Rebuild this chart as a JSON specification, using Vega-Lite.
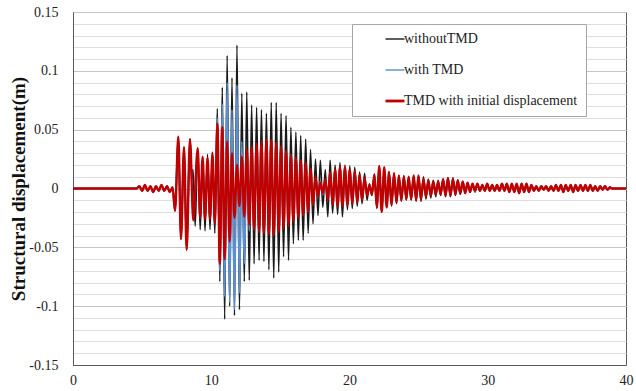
{
"$schema": "https://vega.github.io/schema/vega-lite/v6.json",
"width": 553, "height": 353,
"autosize": {"type": "none"},
"padding": {"left": 73, "top": 12, "right": 10, "bottom": 26},
"background": "white",
"config": {
 "view": {"stroke": "#595959", "strokeWidth": 1},
 "font": "Liberation Serif",
 "legend": {"orient": "none", "legendX": 279, "legendY": 12, "fillColor": "white", "strokeColor": "#a6a6a6", "padding": 8, "symbolOffset": 28, "symbolType": "stroke", "symbolSize": 361, "rowPadding": 17, "labelFontSize": 14, "labelFont": "Liberation Serif", "labelColor": "#222", "labelOffset": 2, "labelLimit": 400}
},
"datasets": {
"without": [
{"t":0,"v":0},{"t":4.6,"v":0},{"t":4.8,"v":0.002},{"t":5.0,"v":-0.002},{"t":5.2,"v":0.003},{"t":5.4,"v":-0.002},{"t":5.6,"v":0.002},{"t":5.8,"v":-0.003},{"t":6.0,"v":0.002},{"t":6.2,"v":-0.002},{"t":6.4,"v":0.003},{"t":6.6,"v":-0.002},{"t":6.8,"v":0.002},{"t":7.0,"v":-0.003},{"t":7.2,"v":0.001},{"t":7.38,"v":-0.019},{"t":7.62,"v":0.044},{"t":7.81,"v":-0.043},{"t":8.03,"v":0.035},{"t":8.22,"v":-0.052},{"t":8.46,"v":0.042},
{"t":8.6,"v":0.008},{"t":8.68,"v":0.016},{"t":8.84,"v":-0.032},{"t":9.02,"v":0.035},{"t":9.2,"v":-0.035},{"t":9.375,"v":0.027},{"t":9.55,"v":-0.036},{"t":9.73,"v":0.029},{"t":9.91,"v":-0.035},{"t":10.085,"v":0.031},{"t":10.26,"v":-0.038},
{"t":10.44,"v":0.068},{"t":10.62,"v":-0.079},{"t":10.8,"v":0.086},{"t":10.97,"v":-0.111},{"t":11.15,"v":0.113},{"t":11.33,"v":-0.1},{"t":11.5,"v":0.094},{"t":11.68,"v":-0.108},{"t":11.86,"v":0.122},{"t":12.04,"v":-0.103},{"t":12.21,"v":0.081},{"t":12.39,"v":-0.079},{"t":12.57,"v":0.082},{"t":12.75,"v":-0.078},{"t":12.92,"v":0.071},{"t":13.1,"v":-0.064},{"t":13.28,"v":0.069},{"t":13.46,"v":-0.061},{"t":13.63,"v":0.067},{"t":13.81,"v":-0.062},{"t":13.99,"v":0.064},{"t":14.17,"v":-0.069},{"t":14.34,"v":0.073},{"t":14.52,"v":-0.076},{"t":14.7,"v":0.073},{"t":14.88,"v":-0.071},{"t":15.05,"v":0.064},{"t":15.23,"v":-0.058},{"t":15.41,"v":0.062},{"t":15.59,"v":-0.061},{"t":15.76,"v":0.052},{"t":15.94,"v":-0.047},{"t":16.12,"v":0.048},{"t":16.3,"v":-0.044},{"t":16.47,"v":0.045},{"t":16.65,"v":-0.044},{"t":16.83,"v":0.042},{"t":17.01,"v":-0.038},{"t":17.18,"v":0.033},{"t":17.36,"v":-0.03},{"t":17.54,"v":0.025},{"t":17.72,"v":-0.023},{"t":17.89,"v":0.024},{"t":18.07,"v":-0.016},{"t":18.25,"v":0.016},{"t":18.43,"v":-0.024},{"t":18.6,"v":0.024},{"t":18.78,"v":-0.021},{"t":18.96,"v":0.02},{"t":19.14,"v":-0.022},{"t":19.31,"v":0.022},{"t":19.49,"v":-0.024},{"t":19.67,"v":0.02},{"t":19.85,"v":-0.018},{"t":20.02,"v":0.019},{"t":20.2,"v":-0.017},{"t":20.38,"v":0.018},{"t":20.56,"v":-0.015},{"t":20.73,"v":0.014},{"t":20.91,"v":-0.013},{"t":21.09,"v":0.013},{"t":21.27,"v":-0.01},{"t":21.44,"v":0.004},{"t":21.62,"v":-0.006},{"t":21.8,"v":0.012},{"t":21.98,"v":-0.017},{"t":22.15,"v":0.019},{"t":22.33,"v":-0.02},{"t":22.51,"v":0.017},{"t":22.69,"v":-0.016},{"t":22.86,"v":0.014},{"t":23.04,"v":-0.015},{"t":23.22,"v":0.013},{"t":23.4,"v":-0.013},{"t":23.57,"v":0.011},{"t":23.75,"v":-0.011},{"t":23.93,"v":0.011},{"t":24.11,"v":-0.01},{"t":24.28,"v":0.01},{"t":24.46,"v":-0.01},{"t":24.64,"v":0.011},{"t":24.82,"v":-0.011},{"t":24.99,"v":0.011},{"t":25.17,"v":-0.011},{"t":25.35,"v":0.01},{"t":25.53,"v":-0.009},{"t":25.7,"v":0.008},{"t":25.88,"v":-0.008},{"t":26.06,"v":0.007},{"t":26.24,"v":-0.007},{"t":26.41,"v":0.007},{"t":26.59,"v":-0.006},{"t":26.77,"v":0.008},{"t":26.95,"v":-0.007},{"t":27.12,"v":0.009},{"t":27.3,"v":-0.007},{"t":27.48,"v":0.009},{"t":27.66,"v":-0.006},{"t":27.83,"v":0.007},{"t":28.01,"v":-0.005},{"t":28.19,"v":0.006},{"t":28.37,"v":-0.004},{"t":28.54,"v":0.005},{"t":28.72,"v":-0.003},{"t":28.9,"v":0.004},
{"t":29.08,"v":-0.003},{"t":29.25,"v":0.004},{"t":29.43,"v":-0.002},{"t":29.61,"v":0.003},{"t":29.79,"v":-0.002},{"t":29.96,"v":0.004},{"t":30.14,"v":-0.002},{"t":30.32,"v":0.003},{"t":30.5,"v":-0.002},{"t":30.67,"v":0.003},{"t":30.85,"v":-0.002},{"t":31.03,"v":0.004},{"t":31.21,"v":-0.002},{"t":31.38,"v":0.004},{"t":31.56,"v":-0.003},{"t":31.74,"v":0.004},{"t":31.92,"v":-0.003},{"t":32.09,"v":0.004},{"t":32.27,"v":-0.004},{"t":32.45,"v":0.004},{"t":32.63,"v":-0.003},{"t":32.8,"v":0.004},{"t":32.98,"v":-0.003},{"t":33.16,"v":0.003},{"t":33.34,"v":-0.002},{"t":33.51,"v":0.002},{"t":33.69,"v":-0.002},{"t":33.87,"v":0.002},{"t":34.05,"v":-0.001},{"t":34.22,"v":0.002},{"t":34.4,"v":-0.002},{"t":34.58,"v":0.002},{"t":34.76,"v":-0.002},{"t":34.93,"v":0.003},{"t":35.11,"v":-0.002},{"t":35.29,"v":0.003},{"t":35.47,"v":-0.003},{"t":35.64,"v":0.003},{"t":35.82,"v":-0.002},{"t":36.0,"v":0.003},{"t":36.18,"v":-0.003},{"t":36.35,"v":0.003},{"t":36.53,"v":-0.002},{"t":36.71,"v":0.003},{"t":36.89,"v":-0.002},{"t":37.06,"v":0.003},{"t":37.24,"v":-0.002},{"t":37.42,"v":0.003},{"t":37.6,"v":-0.002},{"t":37.77,"v":0.002},{"t":37.95,"v":-0.002},{"t":38.13,"v":0.002},{"t":38.31,"v":-0.001},{"t":38.48,"v":0.002},{"t":38.66,"v":-0.001},{"t":38.84,"v":0.001},{"t":39.0,"v":0},{"t":40,"v":0}
],
"with": [
{"t":0,"v":0},{"t":4.6,"v":0},{"t":4.8,"v":0.002},{"t":5.0,"v":-0.002},{"t":5.2,"v":0.003},{"t":5.4,"v":-0.002},{"t":5.6,"v":0.002},{"t":5.8,"v":-0.003},{"t":6.0,"v":0.002},{"t":6.2,"v":-0.002},{"t":6.4,"v":0.003},{"t":6.6,"v":-0.002},{"t":6.8,"v":0.002},{"t":7.0,"v":-0.003},{"t":7.2,"v":0.001},{"t":7.38,"v":-0.019},{"t":7.62,"v":0.044},{"t":7.81,"v":-0.043},{"t":8.03,"v":0.035},{"t":8.22,"v":-0.052},{"t":8.46,"v":0.042},
{"t":8.7,"v":-0.025},{"t":9.02,"v":0.03},{"t":9.2,"v":-0.024},{"t":9.375,"v":0.025},{"t":9.55,"v":-0.025},{"t":9.73,"v":0.024},{"t":9.91,"v":-0.025},{"t":10.085,"v":0.028},{"t":10.26,"v":-0.029},
{"t":10.44,"v":0.06},{"t":10.62,"v":-0.07},{"t":10.8,"v":0.072},{"t":10.97,"v":-0.092},{"t":11.15,"v":0.09},{"t":11.33,"v":-0.097},{"t":11.5,"v":0.067},{"t":11.68,"v":-0.103},{"t":11.86,"v":0.088},{"t":12.04,"v":-0.089},{"t":12.21,"v":0.04},{"t":12.39,"v":-0.064},{"t":12.57,"v":0.03},{"t":12.75,"v":-0.036},{"t":12.92,"v":0.03},{"t":13.1,"v":-0.03},{"t":13.28,"v":0.032},{"t":13.46,"v":-0.031},{"t":13.63,"v":0.033},{"t":13.81,"v":-0.032},{"t":13.99,"v":0.034},{"t":14.17,"v":-0.033},{"t":14.34,"v":0.034},{"t":14.52,"v":-0.033},{"t":14.7,"v":0.032},{"t":14.88,"v":-0.031},{"t":15.05,"v":0.03},{"t":15.23,"v":-0.029},{"t":15.41,"v":0.027},{"t":15.59,"v":-0.027},{"t":15.76,"v":0.025},{"t":15.94,"v":-0.024},{"t":16.12,"v":0.022},{"t":16.3,"v":-0.021},{"t":16.47,"v":0.02},{"t":16.65,"v":-0.019},{"t":16.83,"v":0.018},{"t":17.01,"v":-0.016},{"t":17.18,"v":0.014},{"t":17.36,"v":-0.012},{"t":17.54,"v":0.009},{"t":17.72,"v":-0.007},{"t":17.89,"v":0.006},{"t":18.07,"v":-0.005},{"t":18.25,"v":0.007},{"t":18.43,"v":-0.008},{"t":18.6,"v":0.011},{"t":18.78,"v":-0.011},{"t":18.96,"v":0.013},{"t":19.14,"v":-0.012},{"t":19.31,"v":0.014},{"t":19.49,"v":-0.012},{"t":19.67,"v":0.014},{"t":19.85,"v":-0.012},{"t":20.02,"v":0.013},{"t":20.2,"v":-0.011},{"t":20.38,"v":0.012},{"t":20.56,"v":-0.01},{"t":20.73,"v":0.01},{"t":20.91,"v":-0.008},{"t":21.09,"v":0.008},{"t":21.27,"v":-0.005},{"t":21.44,"v":0.003},{"t":21.62,"v":-0.004},{"t":21.8,"v":0.01},{"t":21.98,"v":-0.013},{"t":22.15,"v":0.016},{"t":22.33,"v":-0.017},{"t":22.51,"v":0.015},{"t":22.69,"v":-0.014},{"t":22.86,"v":0.012},{"t":23.04,"v":-0.012},{"t":23.22,"v":0.011},{"t":23.4,"v":-0.01},{"t":23.57,"v":0.009},{"t":23.75,"v":-0.009},{"t":23.93,"v":0.009},{"t":24.11,"v":-0.008},{"t":24.28,"v":0.008},{"t":24.46,"v":-0.008},{"t":24.64,"v":0.009},{"t":24.82,"v":-0.008},{"t":24.99,"v":0.009},{"t":25.17,"v":-0.008},{"t":25.35,"v":0.007},{"t":25.53,"v":-0.006},{"t":25.7,"v":0.006},{"t":25.88,"v":-0.005},{"t":26.06,"v":0.005},{"t":26.24,"v":-0.004},{"t":26.41,"v":0.005},{"t":26.59,"v":-0.004},{"t":26.77,"v":0.007},{"t":26.95,"v":-0.005},{"t":27.12,"v":0.008},{"t":27.3,"v":-0.005},{"t":27.48,"v":0.007},{"t":27.66,"v":-0.004},{"t":27.83,"v":0.006},{"t":28.01,"v":-0.003},{"t":28.19,"v":0.005},{"t":28.37,"v":-0.003},{"t":28.54,"v":0.004},{"t":28.72,"v":-0.002},{"t":28.9,"v":0.004},
{"t":29.08,"v":-0.003},{"t":29.25,"v":0.004},{"t":29.43,"v":-0.002},{"t":29.61,"v":0.003},{"t":29.79,"v":-0.002},{"t":29.96,"v":0.004},{"t":30.14,"v":-0.002},{"t":30.32,"v":0.003},{"t":30.5,"v":-0.002},{"t":30.67,"v":0.003},{"t":30.85,"v":-0.002},{"t":31.03,"v":0.004},{"t":31.21,"v":-0.002},{"t":31.38,"v":0.004},{"t":31.56,"v":-0.003},{"t":31.74,"v":0.004},{"t":31.92,"v":-0.003},{"t":32.09,"v":0.004},{"t":32.27,"v":-0.004},{"t":32.45,"v":0.004},{"t":32.63,"v":-0.003},{"t":32.8,"v":0.004},{"t":32.98,"v":-0.003},{"t":33.16,"v":0.003},{"t":33.34,"v":-0.002},{"t":33.51,"v":0.002},{"t":33.69,"v":-0.002},{"t":33.87,"v":0.002},{"t":34.05,"v":-0.001},{"t":34.22,"v":0.002},{"t":34.4,"v":-0.002},{"t":34.58,"v":0.002},{"t":34.76,"v":-0.002},{"t":34.93,"v":0.003},{"t":35.11,"v":-0.002},{"t":35.29,"v":0.003},{"t":35.47,"v":-0.003},{"t":35.64,"v":0.003},{"t":35.82,"v":-0.002},{"t":36.0,"v":0.003},{"t":36.18,"v":-0.003},{"t":36.35,"v":0.003},{"t":36.53,"v":-0.002},{"t":36.71,"v":0.003},{"t":36.89,"v":-0.002},{"t":37.06,"v":0.003},{"t":37.24,"v":-0.002},{"t":37.42,"v":0.003},{"t":37.6,"v":-0.002},{"t":37.77,"v":0.002},{"t":37.95,"v":-0.002},{"t":38.13,"v":0.002},{"t":38.31,"v":-0.001},{"t":38.48,"v":0.002},{"t":38.66,"v":-0.001},{"t":38.84,"v":0.001},{"t":39.0,"v":0},{"t":40,"v":0}
],
"initial": [
{"t":0,"v":0},{"t":4.6,"v":0},{"t":4.8,"v":0.002},{"t":5.0,"v":-0.002},{"t":5.2,"v":0.003},{"t":5.4,"v":-0.002},{"t":5.6,"v":0.002},{"t":5.8,"v":-0.003},{"t":6.0,"v":0.002},{"t":6.2,"v":-0.002},{"t":6.4,"v":0.003},{"t":6.6,"v":-0.002},{"t":6.8,"v":0.002},{"t":7.0,"v":-0.003},{"t":7.2,"v":0.001},{"t":7.38,"v":-0.019},{"t":7.62,"v":0.044},{"t":7.81,"v":-0.043},{"t":8.03,"v":0.035},{"t":8.22,"v":-0.052},{"t":8.46,"v":0.042},
{"t":8.7,"v":-0.027},{"t":9.02,"v":0.034},{"t":9.2,"v":-0.025},{"t":9.375,"v":0.027},{"t":9.55,"v":-0.026},{"t":9.73,"v":0.026},{"t":9.91,"v":-0.026},{"t":10.085,"v":0.03},{"t":10.26,"v":-0.03},
{"t":10.44,"v":0.055},{"t":10.62,"v":-0.064},{"t":10.8,"v":0.052},{"t":10.97,"v":-0.06},{"t":11.15,"v":0.04},{"t":11.33,"v":-0.045},{"t":11.5,"v":0.03},{"t":11.68,"v":-0.025},{"t":11.86,"v":0.02},{"t":12.04,"v":-0.015},{"t":12.21,"v":0.027},{"t":12.39,"v":-0.024},{"t":12.57,"v":0.033},{"t":12.75,"v":-0.031},{"t":12.92,"v":0.036},{"t":13.1,"v":-0.035},{"t":13.28,"v":0.038},{"t":13.46,"v":-0.037},{"t":13.63,"v":0.04},{"t":13.81,"v":-0.038},{"t":13.99,"v":0.042},{"t":14.17,"v":-0.039},{"t":14.34,"v":0.041},{"t":14.52,"v":-0.04},{"t":14.7,"v":0.039},{"t":14.88,"v":-0.037},{"t":15.05,"v":0.036},{"t":15.23,"v":-0.034},{"t":15.41,"v":0.032},{"t":15.59,"v":-0.032},{"t":15.76,"v":0.029},{"t":15.94,"v":-0.028},{"t":16.12,"v":0.026},{"t":16.3,"v":-0.025},{"t":16.47,"v":0.024},{"t":16.65,"v":-0.023},{"t":16.83,"v":0.022},{"t":17.01,"v":-0.02},{"t":17.18,"v":0.017},{"t":17.36,"v":-0.014},{"t":17.54,"v":0.01},{"t":17.72,"v":-0.007},{"t":17.89,"v":0.005},{"t":18.07,"v":-0.004},{"t":18.25,"v":0.008},{"t":18.43,"v":-0.01},{"t":18.6,"v":0.014},{"t":18.78,"v":-0.014},{"t":18.96,"v":0.016},{"t":19.14,"v":-0.015},{"t":19.31,"v":0.018},{"t":19.49,"v":-0.015},{"t":19.67,"v":0.018},{"t":19.85,"v":-0.014},{"t":20.02,"v":0.016},{"t":20.2,"v":-0.013},{"t":20.38,"v":0.015},{"t":20.56,"v":-0.012},{"t":20.73,"v":0.012},{"t":20.91,"v":-0.01},{"t":21.09,"v":0.009},{"t":21.27,"v":-0.006},{"t":21.44,"v":0.003},{"t":21.62,"v":-0.005},{"t":21.8,"v":0.012},{"t":21.98,"v":-0.016},{"t":22.15,"v":0.019},{"t":22.33,"v":-0.02},{"t":22.51,"v":0.018},{"t":22.69,"v":-0.016},{"t":22.86,"v":0.014},{"t":23.04,"v":-0.014},{"t":23.22,"v":0.013},{"t":23.4,"v":-0.012},{"t":23.57,"v":0.011},{"t":23.75,"v":-0.01},{"t":23.93,"v":0.01},{"t":24.11,"v":-0.009},{"t":24.28,"v":0.01},{"t":24.46,"v":-0.009},{"t":24.64,"v":0.011},{"t":24.82,"v":-0.01},{"t":24.99,"v":0.011},{"t":25.17,"v":-0.009},{"t":25.35,"v":0.008},{"t":25.53,"v":-0.007},{"t":25.7,"v":0.007},{"t":25.88,"v":-0.006},{"t":26.06,"v":0.006},{"t":26.24,"v":-0.005},{"t":26.41,"v":0.006},{"t":26.59,"v":-0.005},{"t":26.77,"v":0.008},{"t":26.95,"v":-0.006},{"t":27.12,"v":0.009},{"t":27.3,"v":-0.006},{"t":27.48,"v":0.008},{"t":27.66,"v":-0.005},{"t":27.83,"v":0.007},{"t":28.01,"v":-0.004},{"t":28.19,"v":0.006},{"t":28.37,"v":-0.004},{"t":28.54,"v":0.005},{"t":28.72,"v":-0.003},{"t":28.9,"v":0.004},
{"t":29.08,"v":-0.002},{"t":29.25,"v":0.004},{"t":29.43,"v":-0.002},{"t":29.61,"v":0.003},{"t":29.79,"v":-0.002},{"t":29.96,"v":0.004},{"t":30.14,"v":-0.002},{"t":30.32,"v":0.003},{"t":30.5,"v":-0.002},{"t":30.67,"v":0.003},{"t":30.85,"v":-0.002},{"t":31.03,"v":0.004},{"t":31.21,"v":-0.002},{"t":31.38,"v":0.004},{"t":31.56,"v":-0.003},{"t":31.74,"v":0.004},{"t":31.92,"v":-0.003},{"t":32.09,"v":0.004},{"t":32.27,"v":-0.004},{"t":32.45,"v":0.004},{"t":32.63,"v":-0.003},{"t":32.8,"v":0.004},{"t":32.98,"v":-0.003},{"t":33.16,"v":0.003},{"t":33.34,"v":-0.002},{"t":33.51,"v":0.002},{"t":33.69,"v":-0.002},{"t":33.87,"v":0.002},{"t":34.05,"v":-0.001},{"t":34.22,"v":0.002},{"t":34.4,"v":-0.002},{"t":34.58,"v":0.002},{"t":34.76,"v":-0.002},{"t":34.93,"v":0.003},{"t":35.11,"v":-0.002},{"t":35.29,"v":0.003},{"t":35.47,"v":-0.003},{"t":35.64,"v":0.003},{"t":35.82,"v":-0.002},{"t":36.0,"v":0.003},{"t":36.18,"v":-0.003},{"t":36.35,"v":0.003},{"t":36.53,"v":-0.002},{"t":36.71,"v":0.003},{"t":36.89,"v":-0.002},{"t":37.06,"v":0.003},{"t":37.24,"v":-0.002},{"t":37.42,"v":0.003},{"t":37.6,"v":-0.002},{"t":37.77,"v":0.002},{"t":37.95,"v":-0.002},{"t":38.13,"v":0.002},{"t":38.31,"v":-0.001},{"t":38.48,"v":0.002},{"t":38.66,"v":-0.001},{"t":38.84,"v":0.001},{"t":39.0,"v":0},{"t":40,"v":0}
]
},
"encoding": {
 "x": {"field": "t", "type": "quantitative", "scale": {"domain": [0, 40], "nice": false},
  "axis": {"values": [0, 10, 20, 30, 40], "grid": false, "ticks": false, "domainColor": "#595959", "labelFont": "Liberation Serif", "labelFontSize": 14, "labelColor": "#222", "labelPadding": 8, "labelFlush": false, "title": null}}
},
"layer": [
 {"data": {"name": "without"},
  "mark": {"type": "line", "interpolate": "monotone", "strokeWidth": 1.6},
  "encoding": {
   "y": {"field": "v", "type": "quantitative", "scale": {"domain": [-0.15, 0.15], "nice": false},
    "axis": {"orient": "left", "values": [-0.15,-0.14,-0.13,-0.12,-0.11,-0.1,-0.09,-0.08,-0.07,-0.06,-0.05,-0.04,-0.03,-0.02,-0.01,0,0.01,0.02,0.03,0.04,0.05,0.06,0.07,0.08,0.09,0.1,0.11,0.12,0.13,0.14,0.15], "grid": true, "gridColor": "#dedede", "labels": false, "ticks": false, "domain": false, "title": null}},
   "color": {"datum": "withoutTMD", "type": "nominal",
    "scale": {"domain": ["withoutTMD", "with TMD", "TMD with initial displacement"], "range": ["#1a1a1a", "#5b8fd0", "#c00000"]},
    "legend": {"title": null, "encode": {"symbols": {"update": {"strokeWidth": {"signal": "datum.value === 'TMD with initial displacement' ? 2.8 : 1.4"}}}}}}
  }},
 {"data": {"name": "with"},
  "mark": {"type": "line", "interpolate": "monotone", "strokeWidth": 1.8},
  "encoding": {
   "y": {"field": "v", "type": "quantitative",
    "axis": {"orient": "left", "values": [-0.15, -0.1, -0.05, 0, 0.05, 0.1, 0.15], "labelExpr": "'' + datum.value", "grid": true, "gridColor": "#c4c4c4", "ticks": false, "domainColor": "#595959", "labelFont": "Liberation Serif", "labelFontSize": 14, "labelColor": "#222", "labelPadding": 15,
     "title": "Structural displacement(m)", "titleFont": "Liberation Serif", "titleFontSize": 19, "titleFontWeight": "bold", "titleColor": "#111", "titleX": -45, "titleY": 176.5, "titleBaseline": "bottom", "titleAngle": 270}},
   "color": {"datum": "with TMD", "type": "nominal"}
  }},
 {"data": {"name": "initial"},
  "mark": {"type": "line", "interpolate": "monotone", "strokeWidth": 2.4},
  "encoding": {
   "y": {"field": "v", "type": "quantitative", "axis": null},
   "color": {"datum": "TMD with initial displacement", "type": "nominal"}
  }}
],
"resolve": {"axis": {"y": "independent"}}
}
